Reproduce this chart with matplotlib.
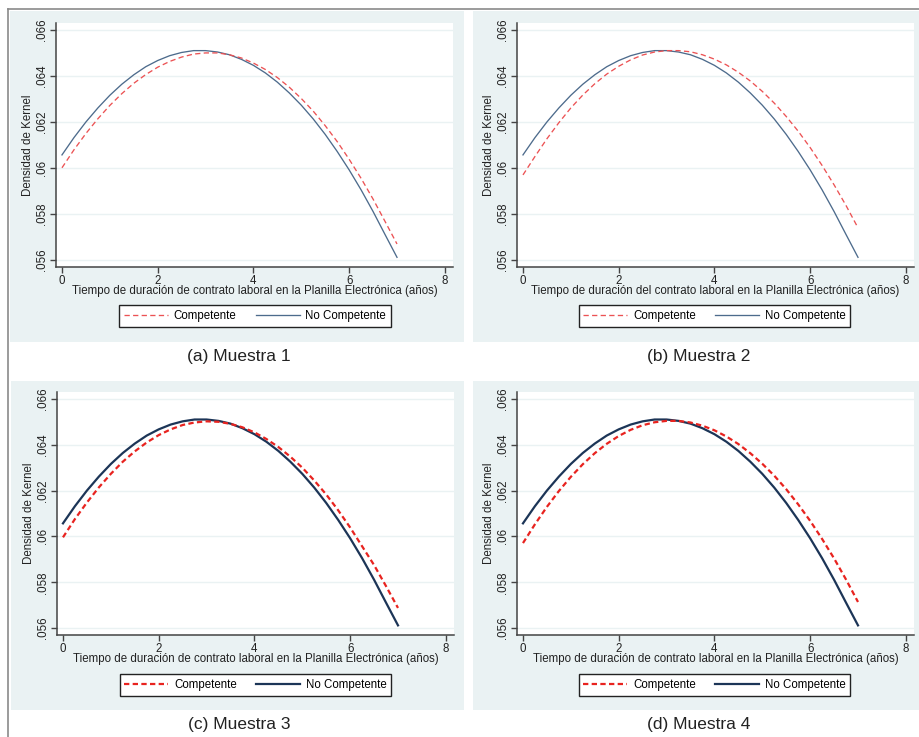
import matplotlib
matplotlib.use("Agg")
import matplotlib.pyplot as plt
from matplotlib.patches import Rectangle
from matplotlib.lines import Line2D

plt.rcParams['font.family'] = ['Liberation Sans', 'DejaVu Sans']

# años (eje x) en los que se leyeron las curvas
years = [0, 0.25, 0.5, 0.75, 1, 1.25, 1.5, 1.75, 2, 2.25, 2.5, 2.75, 3, 3.25, 3.5,
         3.75, 4, 4.25, 4.5, 4.75, 5, 5.25, 5.5, 5.75, 6, 6.25, 6.5, 6.75, 7]

# No Competente (casi igual en las cuatro muestras)
no_comp = [0.06057, 0.06132, 0.06200, 0.06261, 0.06316, 0.06364, 0.06405, 0.06440,
           0.06467, 0.06488, 0.06502, 0.06510, 0.06510, 0.06504, 0.06492, 0.06472,
           0.06446, 0.06413, 0.06373, 0.06326, 0.06273, 0.06213, 0.06146, 0.06072,
           0.05992, 0.05905, 0.05811, 0.05711, 0.05612]

# Competente por muestra
comp_m1 = [0.06001, 0.06079, 0.06150, 0.06214, 0.06272, 0.06323, 0.06368, 0.06406,
           0.06438, 0.06463, 0.06482, 0.06495, 0.06500, 0.06500, 0.06492, 0.06478,
           0.06456, 0.06428, 0.06393, 0.06351, 0.06302, 0.06247, 0.06184, 0.06115,
           0.06038, 0.05955, 0.05865, 0.05768, 0.05670]
comp_m2 = [0.05970, 0.06050, 0.06127, 0.06197, 0.06261, 0.06317, 0.06366, 0.06408,
           0.06442, 0.06470, 0.06491, 0.06504, 0.06510, 0.06510, 0.06505, 0.06492,
           0.06473, 0.06448, 0.06416, 0.06378, 0.06333, 0.06282, 0.06224, 0.06160,
           0.06089, 0.06011, 0.05927, 0.05837, 0.05740]
comp_m3 = [0.05996, 0.06076, 0.06148, 0.06214, 0.06273, 0.06326, 0.06371, 0.06410,
           0.06442, 0.06467, 0.06486, 0.06497, 0.06502, 0.06500, 0.06491, 0.06476,
           0.06454, 0.06425, 0.06390, 0.06348, 0.06300, 0.06244, 0.06183, 0.06114,
           0.06039, 0.05957, 0.05875, 0.05783, 0.05688]
comp_m4 = [0.05971, 0.06053, 0.06129, 0.06198, 0.06260, 0.06315, 0.06363, 0.06404,
           0.06438, 0.06465, 0.06485, 0.06498, 0.06504, 0.06504, 0.06497, 0.06483,
           0.06463, 0.06436, 0.06403, 0.06363, 0.06317, 0.06265, 0.06206, 0.06140,
           0.06068, 0.05989, 0.05904, 0.05812, 0.05714]

yticks = [0.056, 0.058, 0.060, 0.062, 0.064, 0.066]
ytick_labels = ['.056', '.058', '.06', '.062', '.064', '.066']
xticks = [0, 2, 4, 6, 8]

captions = ['(a) Muestra 1', '(b) Muestra 2', '(c) Muestra 3', '(d) Muestra 4']
xlabels = ['Tiempo de duración de contrato laboral en la Planilla Electrónica (años)',
           'Tiempo de duración del contrato laboral en la Planilla Electrónica (años)',
           'Tiempo de duración de contrato laboral en la Planilla Electrónica (años)',
           'Tiempo de duración de contrato laboral en la Planilla Electrónica (años)']

W, H = 920, 737
fig = plt.figure(figsize=(W / 100, H / 100), dpi=100)
fig.patch.set_facecolor('white')


def fx(x):
    return x / W


def fy(y):
    return 1 - y / H


# marco gris exterior
fig.add_artist(Line2D([fx(8), fx(920)], [fy(9), fy(9)], color='#8a8a8a', lw=1.2))
fig.add_artist(Line2D([fx(8), fx(8)], [fy(9), fy(737)], color='#8a8a8a', lw=1.2))

# (bg_x0, bg_y0, bg_x1, bg_y1, ax_left, ax_top, ax_right, ax_bottom, legend_y, caption_y)
layout = [
    (10, 11, 464, 342, 56, 23, 453, 267, 316, 357),
    (473, 11, 920, 342, 517, 23, 914, 267, 316, 357),
    (11, 381, 464, 710, 57, 392, 454, 635, 685, 725),
    (473, 381, 920, 710, 517, 392, 914, 635, 685, 725),
]
comps = [comp_m1, comp_m2, comp_m3, comp_m4]
bold = [False, False, True, True]
fs = 8.3

for i in range(4):
    bx0, by0, bx1, by1, al, at, ar, ab, ly, cy = layout[i]
    fig.add_artist(Rectangle((fx(bx0), fy(by1)), fx(bx1 - bx0), (by1 - by0) / H,
                             facecolor='#eaf2f3', edgecolor='none', zorder=0))
    ax = fig.add_axes([fx(al), fy(ab), fx(ar - al), (ab - at) / H])
    ax.set_facecolor('white')

    if bold[i]:
        red, blue, lw, dash = '#e8231f', '#1c3557', 1.6, (2.4, 1.5)
    else:
        red, blue, lw, dash = '#ec5254', '#4d6b8c', 0.95, (4, 2.5)

    ax.plot(years, comps[i], color=red, lw=lw, linestyle=(0, dash), label='Competente', zorder=3)
    ax.plot(years, no_comp, color=blue, lw=lw, label='No Competente', zorder=2)

    ax.set_xlim(-0.125, 8.17)
    ax.set_ylim(0.0557, 0.0663)
    ax.set_xticks(xticks)
    ax.set_yticks(yticks)
    ax.set_yticklabels(ytick_labels, rotation=90, va='center')
    ax.grid(axis='y', color='#eaf2f3', lw=1)
    ax.set_axisbelow(True)
    for s in ['top', 'right']:
        ax.spines[s].set_visible(False)
    for s in ['left', 'bottom']:
        ax.spines[s].set_color('#444444')
        ax.spines[s].set_linewidth(1.1)
    ax.tick_params(direction='out', length=4, width=1, color='#444444',
                   labelsize=fs, labelcolor='#222222', pad=1.5)
    ax.set_ylabel('Densidad de Kernel', fontsize=fs, color='#222222', labelpad=2)
    ax.set_xlabel(xlabels[i], fontsize=fs, color='#222222', labelpad=-1.5)

    leg = ax.legend(loc='center', ncol=2, fontsize=fs,
                    frameon=True, fancybox=False, edgecolor='#222222', facecolor='white',
                    framealpha=1, handlelength=3.8, columnspacing=1.7, handletextpad=0.5,
                    borderpad=0.4, borderaxespad=0)
    leg.get_frame().set_linewidth(1)
    leg.set_bbox_to_anchor((fx((bx0 + bx1) / 2 + 18), fy(ly)), transform=fig.transFigure)

    fig.text(fx((bx0 + bx1) / 2 + 2), fy(cy), captions[i], ha='center', va='center',
             fontsize=12.5, color='#222222')

fig.savefig('out.png', dpi=100)
